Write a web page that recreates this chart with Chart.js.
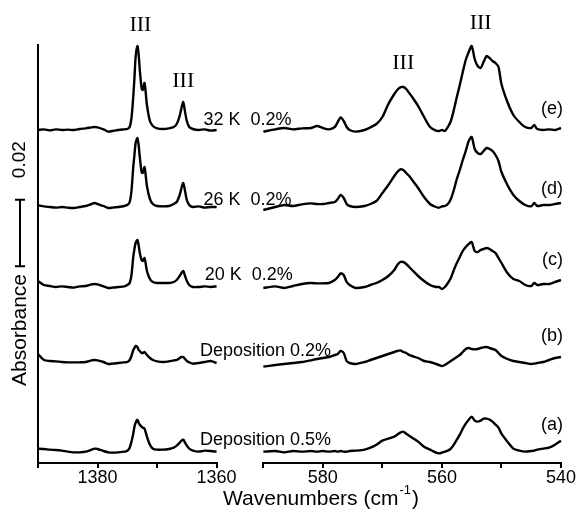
<!DOCTYPE html>
<html>
<head>
<meta charset="utf-8">
<title>IR absorbance spectra</title>
<script src="https://cdn.jsdelivr.net/npm/chart.js@4.4.1/dist/chart.umd.min.js"></script>
<style>
    html, body { margin: 0; padding: 0; background: #fff; }
    #spectra-chart { display: block; }
</style>
</head>
<body>
<canvas id="spectra-chart" width="579" height="516"></canvas>
<script>
/**
 * IR absorbance spectra in two wavenumber windows (broken x axis)
 */

// Wavenumber grids (cm-1) of the two windows
const leftWavenumbers = [1390, 1389, 1388, 1387, 1386, 1385, 1384, 1383, 1382, 1381,
    1380.5, 1380, 1379, 1378.2, 1377.5, 1376.5, 1375.5, 1375, 1374.6, 1374.3,
    1374, 1373.8, 1373.6, 1373.3, 1373.1, 1372.9, 1372.6, 1372.4, 1372.1, 1371.7,
    1371.2, 1370.7, 1370, 1369, 1368, 1367.2, 1366.7, 1366.2, 1365.9, 1365.6,
    1365.3, 1365, 1364.6, 1364, 1363, 1362, 1361, 1360];

const rightWavenumbers = [590, 588, 586.5, 585, 583.5, 582, 581, 580, 579, 578,
    577.5, 577, 576.5, 576, 575.5, 574.5, 573, 572, 571, 570,
    569, 568, 567.5, 567, 566.5, 566, 565.5, 565, 564, 563,
    562, 561, 560.5, 560, 559.5, 559, 558.5, 558, 557.5, 557,
    556.5, 556, 555.5, 555, 554.5, 554, 553.5, 553, 552.5, 552,
    551.5, 551, 550.5, 550, 549, 548, 547, 546, 545, 544.5,
    544, 543, 542, 541, 540];

// Axis windows and tick labels
const leftRange = [1360, 1390];
const rightRange = [540, 590];
const leftTicks = [1390, 1380, 1370, 1360];
const rightTicks = [590, 580, 570, 560, 550, 540];
const labelledTicks = [1380, 1360, 580, 560, 540];

// Traces, bottom to top
const traceLabels = ['(a)', '(b)', '(c)', '(d)', '(e)'];
const conditionLabels = ['Deposition 0.5%', 'Deposition 0.2%', '20 K  0.2%', '26 K  0.2%', '32 K  0.2%'];
const traceOffsets = [0.0034, 0.0300, 0.0528, 0.0768, 0.0999];

// Absorbance above each trace's baseline, 1390-1360 cm-1
const leftA = [0.0009, 0.0008, 0.0006, 0.0005, 0.0003, 0, -0.0002, -0.0002, 0, 0.0006,
    0.0009, 0.0008, 0.0002, -0.0002, -0.0003, -0.0002, 0, 0.0003, 0.0012, 0.0030,
    0.0054, 0.0075, 0.0087, 0.0096, 0.0087, 0.0081, 0.0075, 0.0072, 0.0069, 0.0045,
    0.0021, 0.0009, 0.0006, 0.0006, 0.0008, 0.0012, 0.0018, 0.0027, 0.0033, 0.0036,
    0.0027, 0.0018, 0.0009, 0.0003, 0, 0.0003, 0.0002, 0];
const leftB = [0.0027, 0.0009, 0.0006, 0.0005, 0.0003, 0.0002, 0.0002, 0.0002, 0.0003, 0.0008,
    0.0009, 0.0008, 0.0003, -0.0003, -0.0002, 0, 0.0002, 0.0003, 0.0009, 0.0021,
    0.0039, 0.0045, 0.0051, 0.0048, 0.0039, 0.0036, 0.0030, 0.0030, 0.0033, 0.0024,
    0.0015, 0.0009, 0.0005, 0.0003, 0.0005, 0.0008, 0.0009, 0.0015, 0.0018, 0.0018,
    0.0012, 0.0006, 0.0002, -0.0002, 0, 0.0003, 0.0006, 0];
const leftC = [0.0018, 0.0006, 0.0003, 0, 0.0002, 0, -0.0002, 0.0002, 0.0003, 0.0008,
    0.0009, 0.0008, 0.0002, -0.0003, -0.0002, 0, 0.0002, 0.0006, 0.0012, 0.0036,
    0.0090, 0.0114, 0.0132, 0.0141, 0.0126, 0.0102, 0.0081, 0.0078, 0.0087, 0.0048,
    0.0024, 0.0015, 0.0012, 0.0012, 0.0012, 0.0015, 0.0021, 0.0033, 0.0042, 0.0048,
    0.0033, 0.0018, 0.0006, 0, 0, 0.0002, 0, 0.0002];
const leftD = [0.0005, 0.0002, 0, -0.0002, 0, -0.0002, -0.0003, 0, 0.0003, 0.0009,
    0.0012, 0.0009, 0.0003, -0.0003, -0.0002, 0, 0.0003, 0.0006, 0.0015, 0.0048,
    0.0120, 0.0156, 0.0192, 0.0207, 0.0186, 0.0150, 0.0105, 0.0102, 0.0120, 0.0063,
    0.0024, 0.0009, 0.0003, 0.0002, 0.0003, 0.0009, 0.0015, 0.0036, 0.0057, 0.0072,
    0.0048, 0.0021, 0.0006, 0, 0.0002, -0.0002, 0, 0];
const leftE = [0, 0.0002, -0.0001, 0.0002, 0, 0.0001, 0, 0.0003, 0.0005, 0.0008,
    0.0009, 0.0008, 0.0002, -0.0005, -0.0003, 0, 0.0002, 0.0003, 0.0009, 0.0036,
    0.0099, 0.0156, 0.0219, 0.0252, 0.0228, 0.0180, 0.0126, 0.0120, 0.0141, 0.0075,
    0.0027, 0.0012, 0.0005, 0.0003, 0.0005, 0.0009, 0.0018, 0.0042, 0.0066, 0.0084,
    0.0054, 0.0027, 0.0009, 0.0003, 0, 0.0002, -0.0002, 0];

// Absorbance above each trace's baseline, 590-540 cm-1
const rightA = [0, 0.0002, -0.0002, 0.0002, 0, 0.0002, 0, 0.0002, 0, 0.0002,
    0, 0.0002, 0, 0, 0.0002, 0.0003, 0.0006, 0.0012, 0.0021, 0.0033,
    0.0039, 0.0045, 0.0051, 0.0057, 0.0060, 0.0054, 0.0048, 0.0042, 0.0030, 0.0015,
    0.0006, -0.0003, -0.0005, -0.0003, 0, 0.0003, 0.0009, 0.0021, 0.0036, 0.0051,
    0.0069, 0.0084, 0.0096, 0.0105, 0.0093, 0.0090, 0.0093, 0.0099, 0.0099, 0.0096,
    0.0090, 0.0081, 0.0072, 0.0054, 0.0030, 0.0009, 0.0003, 0, 0.0002, 0.0003,
    0.0006, 0.0009, 0.0012, 0.0021, 0.0033];
const rightB = [-0.0011, -0.0006, -0.0003, 0, 0.0003, 0.0008, 0.0012, 0.0015, 0.0018, 0.0024,
    0.0027, 0.0036, 0.0030, 0.0006, 0, -0.0003, 0.0003, 0.0009, 0.0015, 0.0021,
    0.0027, 0.0033, 0.0036, 0.0038, 0.0033, 0.0030, 0.0024, 0.0021, 0.0015, 0.0006,
    0.0003, -0.0003, -0.0006, -0.0009, -0.0006, 0, 0.0006, 0.0012, 0.0018, 0.0024,
    0.0033, 0.0042, 0.0045, 0.0042, 0.0041, 0.0042, 0.0045, 0.0047, 0.0048, 0.0045,
    0.0042, 0.0039, 0.0030, 0.0021, 0.0012, 0.0006, 0.0003, 0, -0.0003, -0.0002,
    0, 0.0003, 0.0009, 0.0015, 0.0018];
const rightC = [-0.0003, 0.0002, -0.0003, 0.0003, 0.0009, 0.0012, 0.0011, 0.0011, 0.0012, 0.0021,
    0.0030, 0.0041, 0.0036, 0.0015, 0.0006, -0.0003, 0, 0.0006, 0.0012, 0.0021,
    0.0033, 0.0051, 0.0066, 0.0075, 0.0075, 0.0069, 0.0060, 0.0051, 0.0033, 0.0018,
    0.0006, 0, 0, -0.0006, 0, 0.0012, 0.0027, 0.0051, 0.0072, 0.0090,
    0.0108, 0.0120, 0.0129, 0.0135, 0.0108, 0.0105, 0.0111, 0.0114, 0.0117, 0.0114,
    0.0108, 0.0102, 0.0087, 0.0072, 0.0042, 0.0024, 0.0018, 0.0006, 0.0003, 0.0012,
    0.0006, 0.0009, 0.0009, 0.0015, 0.0021];
const rightD = [-0.0009, 0, 0.0006, 0.0003, 0.0008, 0.0011, 0.0009, 0.0009, 0.0012, 0.0015,
    0.0024, 0.0036, 0.0027, 0.0009, 0.0003, 0, 0.0003, 0.0009, 0.0018, 0.0042,
    0.0066, 0.0093, 0.0105, 0.0113, 0.0111, 0.0102, 0.0093, 0.0081, 0.0057, 0.0030,
    0.0009, 0, -0.0002, 0.0002, 0.0003, 0.0009, 0.0024, 0.0051, 0.0084, 0.0111,
    0.0141, 0.0168, 0.0198, 0.0210, 0.0174, 0.0162, 0.0159, 0.0168, 0.0177, 0.0174,
    0.0168, 0.0156, 0.0138, 0.0105, 0.0066, 0.0036, 0.0018, 0.0006, 0.0002, 0.0012,
    0.0003, 0.0006, 0.0006, 0.0009, 0.0012];
const rightE = [-0.0005, 0.0002, 0.0006, 0.0002, 0.0005, 0.0006, 0.0012, 0.0006, 0.0002, 0.0009,
    0.0024, 0.0038, 0.0027, 0.0009, 0, -0.0005, 0, 0.0008, 0.0018, 0.0039,
    0.0078, 0.0108, 0.0120, 0.0128, 0.0129, 0.0123, 0.0111, 0.0099, 0.0072, 0.0039,
    0.0009, -0.0002, -0.0003, 0, -0.0003, 0.0009, 0.0027, 0.0060, 0.0099, 0.0135,
    0.0174, 0.0210, 0.0234, 0.0252, 0.0213, 0.0192, 0.0186, 0.0204, 0.0222, 0.0216,
    0.0207, 0.0201, 0.0189, 0.0138, 0.0084, 0.0045, 0.0024, 0.0009, 0.0006, 0.0015,
    0.0003, 0, 0.0002, 0, 0.0006];

// Band labels
const bandLabel = 'III';
const scaleBarSize = 0.02;

// Annotation placement (data coordinates where possible)
const bandMarks = [
    { axis: 'xl', wn: 1372.8, abs: 0.1314 },
    { axis: 'xl', wn: 1365.6, abs: 0.1146 },
    { axis: 'xr', wn: 566.5, abs: 0.1199 },
    { axis: 'xr', wn: 553.5, abs: 0.1319 }
];
const conditionAt = [1362.8, 1362.8, 1362.0, 1362.2, 1362.2];
const conditionRise = [7, 7, 7, 2, 5];
const letterRise = [22, 22, 22, 13, 16];
const scaleBarBase = 0.059;

const SANS = '"Liberation Sans", Arial, sans-serif';
const SERIF = '"Liberation Serif", "Times New Roman", serif';

const leftTraces = [leftA, leftB, leftC, leftD, leftE];
const rightTraces = [rightA, rightB, rightC, rightD, rightE];

function toPoints(wavenumbers, values, offset) {
    return wavenumbers.map((wn, i) => ({ x: wn, y: offset + values[i] }));
}

function traceDataset(axisId, wavenumbers, values, offset) {
    return {
        xAxisID: axisId,
        data: toPoints(wavenumbers, values, offset),
        borderColor: '#000',
        borderWidth: 2.4,
        pointRadius: 0,
        tension: 0.25,
        clip: 4
    };
}

function windowAxis(range, ticks, weight) {
    return {
        type: 'linear',
        position: 'bottom',
        stack: 'wavenumber',
        stackWeight: range[1] - range[0],
        weight: weight,
        reverse: true,
        min: range[0],
        max: range[1],
        border: { display: true, color: '#000', width: 2 },
        grid: { drawOnChartArea: false, drawTicks: true, tickLength: 5, color: '#000', lineWidth: 2 },
        ticks: {
            autoSkip: false,
            maxRotation: 0,
            padding: -1,
            color: '#000',
            font: { size: 18, family: SANS },
            callback: value => (labelledTicks.includes(value) ? String(value) : '')
        },
        afterBuildTicks: scale => { scale.ticks = ticks.map(v => ({ value: v })); },
        afterFit: scale => { scale.height = 53; scale.paddingLeft = 0; scale.paddingRight = 0; }
    };
}

const spectraAnnotations = {
    id: 'spectraAnnotations',
    afterDraw(chart) {
        const { ctx, chartArea, scales } = chart;
        const yScale = scales.y;
        ctx.save();
        ctx.fillStyle = '#000';
        ctx.strokeStyle = '#000';

        // Band assignment above the peaks
        ctx.font = '22px ' + SERIF;
        ctx.textAlign = 'center';
        ctx.textBaseline = 'middle';
        bandMarks.forEach(m => {
            ctx.fillText(bandLabel, scales[m.axis].getPixelForValue(m.wn), yScale.getPixelForValue(m.abs));
        });

        // Conditions in the axis break, trace letters on the right
        ctx.font = '18px ' + SANS;
        ctx.textBaseline = 'alphabetic';
        traceOffsets.forEach((offset, i) => {
            const base = yScale.getPixelForValue(offset);
            ctx.textAlign = 'left';
            ctx.fillText(conditionLabels[i], scales.xl.getPixelForValue(conditionAt[i]), base - conditionRise[i]);
            ctx.textAlign = 'right';
            ctx.fillText(traceLabels[i], scales.xr.right + 2, base - letterRise[i]);
        });

        // Absorbance scale bar
        const barX = chartArea.left - 18;
        const barTop = yScale.getPixelForValue(scaleBarBase + scaleBarSize);
        const barBottom = yScale.getPixelForValue(scaleBarBase);
        ctx.lineWidth = 2;
        ctx.beginPath();
        ctx.moveTo(barX, barTop);
        ctx.lineTo(barX, barBottom);
        ctx.moveTo(barX - 5, barTop);
        ctx.lineTo(barX + 5, barTop);
        ctx.moveTo(barX - 5, barBottom);
        ctx.lineTo(barX + 5, barBottom);
        ctx.stroke();

        ctx.textAlign = 'center';
        ctx.textBaseline = 'middle';
        ctx.save();
        ctx.translate(barX, barTop - 40);
        ctx.rotate(-Math.PI / 2);
        ctx.font = '19px ' + SANS;
        ctx.fillText(String(scaleBarSize), 0, 0);
        ctx.restore();

        ctx.save();
        ctx.translate(barX, chartArea.bottom - 133);
        ctx.rotate(-Math.PI / 2);
        ctx.font = '21px ' + SANS;
        ctx.fillText('Absorbance', 0, 0);
        ctx.restore();

        // x title with superscript
        ctx.textAlign = 'left';
        ctx.textBaseline = 'alphabetic';
        const titleY = chart.height - 11;
        const main = 'Wavenumbers (cm';
        let tx = chartArea.left + 185;
        ctx.font = '21px ' + SANS;
        ctx.fillText(main, tx, titleY);
        tx += ctx.measureText(main).width + 1;
        ctx.font = '13px ' + SANS;
        ctx.fillText('-1', tx, titleY - 11);
        tx += ctx.measureText('-1').width + 1;
        ctx.font = '21px ' + SANS;
        ctx.fillText(')', tx, titleY);

        ctx.restore();
    }
};

const datasets = [];
traceOffsets.forEach((offset, i) => {
    datasets.push(traceDataset('xl', leftWavenumbers, leftTraces[i], offset));
    datasets.push(traceDataset('xr', rightWavenumbers, rightTraces[i], offset));
});

new Chart(document.getElementById('spectra-chart'), {
    type: 'line',
    data: { datasets: datasets },
    options: {
        responsive: false,
        animation: false,
        layout: { padding: { left: 38, right: 18, top: 45, bottom: 0 } },
        plugins: {
            legend: { display: false },
            tooltip: { enabled: false }
        },
        scales: {
            xl: windowAxis(leftRange, leftTicks, 1),
            xgap: {
                type: 'linear',
                position: 'bottom',
                stack: 'wavenumber',
                stackWeight: 7.85,
                weight: 2,
                ticks: { display: false },
                grid: { display: false },
                border: { display: false },
                afterFit: scale => { scale.height = 53; scale.paddingLeft = 0; scale.paddingRight = 0; }
            },
            xr: windowAxis(rightRange, rightTicks, 3),
            y: {
                type: 'linear',
                position: 'left',
                min: 0,
                max: 0.1254,
                ticks: { display: false },
                grid: { display: false },
                border: { display: true, color: '#000', width: 2 },
                afterFit: scale => { scale.width = 0; }
            }
        }
    },
    plugins: [spectraAnnotations]
});
</script>
</body>
</html>
